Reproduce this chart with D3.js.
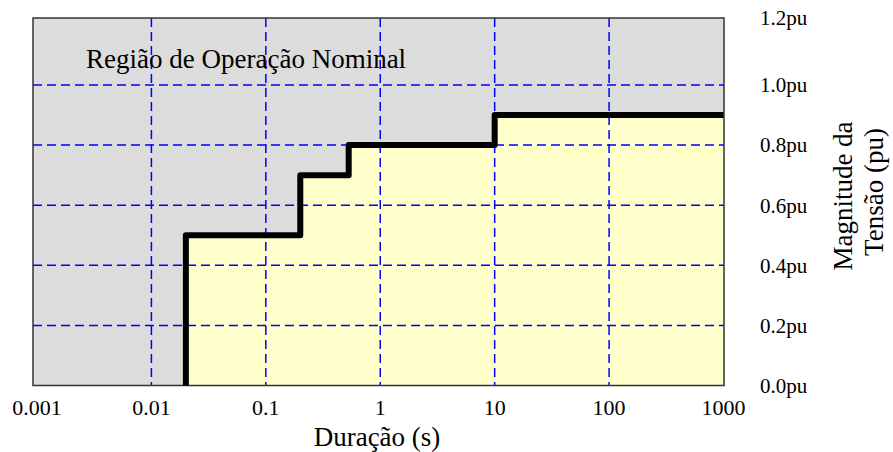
<!DOCTYPE html>
<html><head><meta charset="utf-8">
<script src="https://cdn.jsdelivr.net/npm/d3@7"></script>
<style>
body{margin:0;background:#fff;}
</style>
</head><body>
<svg id="c" width="893" height="452"></svg>
<script>
// ---- data ----
const durations = [0.02, 0.02, 0.2, 0.2, 0.53, 0.53, 10, 10, 1000];
const voltages  = [0,    0.5,  0.5, 0.7, 0.7,  0.8,  0.8, 0.9, 0.9];
const xTicks = [0.001, 0.01, 0.1, 1, 10, 100, 1000];
const xTickLabels = ["0.001", "0.01", "0.1", "1", "10", "100", "1000"];
const yTicks = [0, 0.2, 0.4, 0.6, 0.8, 1.0, 1.2];
const yTickLabels = ["0.0pu", "0.2pu", "0.4pu", "0.6pu", "0.8pu", "1.0pu", "1.2pu"];
const regionLabel = "Região de Operação Nominal";
const xTitle = "Duração (s)";
const yTitleLines = ["Magnitude da", "Tensão (pu)"];

// ---- layout ----
const FONT = "'Liberation Serif', 'Times', serif";
const BIG = 27 / 22;   // large labels: 22px glyphs scaled up
const svg = d3.select("#c");
const frame = {left: 33, right: 724, top: 18, bottom: 385.5};
const x = d3.scaleLog().domain([0.001, 1000]).range([37, 723.5]);
const y = d3.scaleLinear().domain([0, 1.0, 1.2]).range([385.5, 85, 18]);
const pts = durations.map((d, i) => ({d, v: voltages[i]}));

svg.append("rect").attr("width", 893).attr("height", 452).attr("fill", "#fff");

svg.append("rect")
  .attr("x", frame.left).attr("y", frame.top)
  .attr("width", frame.right - frame.left).attr("height", frame.bottom - frame.top)
  .attr("fill", "#dcdcdc");

svg.append("path")
  .datum(pts)
  .attr("fill", "#ffffcc")
  .attr("d", d3.area().x(p => x(p.d)).y0(y(0)).y1(p => y(p.v)));

const grid = svg.append("g").attr("stroke", "#0000ff").attr("stroke-width", 1.5)
  .attr("stroke-dasharray", "9,5").attr("fill", "none");
grid.selectAll("line.v").data(xTicks.slice(1, -1)).join("line")
  .attr("x1", d => x(d)).attr("x2", d => x(d))
  .attr("y1", frame.top).attr("y2", frame.bottom);
grid.selectAll("line.h").data(yTicks.slice(1, -1)).join("line")
  .attr("x1", frame.left).attr("x2", frame.right)
  .attr("y1", d => y(d)).attr("y2", d => y(d));

svg.append("rect")
  .attr("x", frame.left).attr("y", frame.top)
  .attr("width", frame.right - frame.left).attr("height", frame.bottom - frame.top)
  .attr("fill", "none").attr("stroke", "#333").attr("stroke-width", 1.5);

svg.append("path")
  .datum(pts)
  .attr("fill", "none").attr("stroke", "#000").attr("stroke-width", 6)
  .attr("stroke-linejoin", "round")
  .attr("d", d3.line().x(p => x(p.d)).y(p => y(p.v)));

const T = (sel) => sel.style("font-family", FONT).attr("fill", "#000");

T(svg.append("g").selectAll("text").data(xTicks).join("text"))
  .attr("x", d => x(d)).attr("y", 415)
  .attr("text-anchor", "middle").attr("font-size", 22)
  .text((d, i) => xTickLabels[i]);

T(svg.append("g").selectAll("text").data(yTicks).join("text"))
  .attr("x", 760).attr("y", d => y(d)).attr("dy", "0.35em")
  .attr("font-size", 21)
  .text((d, i) => yTickLabels[i]);

T(svg.append("text")).attr("transform", `translate(86,68) scale(${BIG})`)
  .attr("font-size", 22).text(regionLabel);

T(svg.append("text")).attr("transform", `translate(377,446) scale(${BIG})`)
  .attr("text-anchor", "middle").attr("font-size", 22).text(xTitle);

T(svg.append("text")).attr("transform", `translate(852,196) rotate(-90) scale(${BIG})`)
  .attr("text-anchor", "middle").attr("font-size", 22).text(yTitleLines[0]);
T(svg.append("text")).attr("transform", `translate(883,192) rotate(-90) scale(${BIG})`)
  .attr("text-anchor", "middle").attr("font-size", 22).text(yTitleLines[1]);
</script>
</body></html>
